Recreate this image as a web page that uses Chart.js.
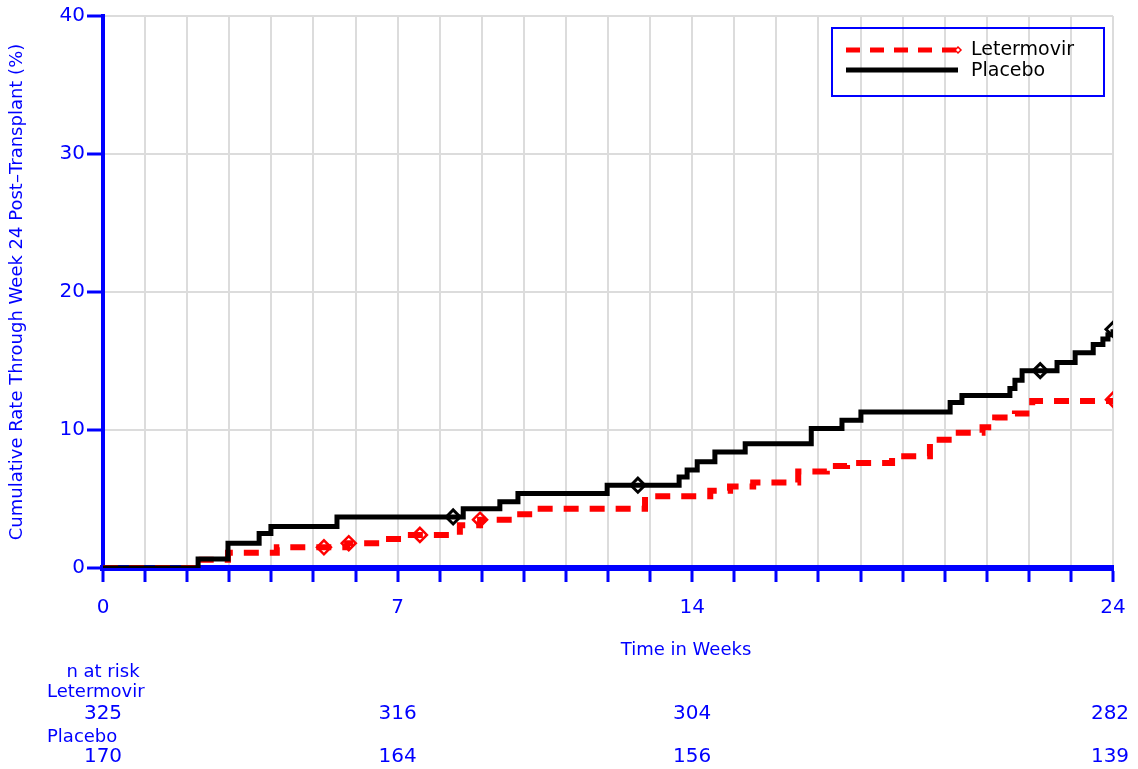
<!DOCTYPE html>
<html>
<head>
<meta charset="utf-8">
<script src="https://cdn.jsdelivr.net/npm/chart.js@4.4.1/dist/chart.umd.min.js"></script>
<style>
body { margin: 0; background: #fff; }
#wrap { width: 1138px; height: 769px; position: relative; }
</style>
</head>
<body>
<div id="wrap"><canvas id="km-chart"></canvas></div>
<script>
// step curves: week at which the rate jumps, and the new cumulative rate (%)
const letermovirWeeks = [0, 2.2, 2.97, 4.13, 5.8, 6.58, 7.13, 8.48, 8.96, 9.79, 10.26, 12.88, 14.43, 14.9, 15.45, 16.52, 17.2, 17.68, 18.75, 19.65, 20.2, 20.9, 21.2, 21.67, 22.08, 24];
const letermovirRate  = [0, 0.6, 1.1, 1.5, 1.8, 2.1, 2.4, 3.1, 3.5, 3.9, 4.3, 5.2, 5.6, 5.9, 6.2, 7.0, 7.4, 7.6, 8.1, 9.3, 9.8, 10.2, 10.9, 11.2, 12.1, 12.2];
const placeboWeeks = [0, 2.26, 2.97, 3.71, 3.99, 5.56, 8.56, 9.43, 9.86, 11.98, 13.69, 13.88, 14.12, 14.54, 15.26, 16.83, 17.56, 18.01, 20.13, 20.41, 21.55, 21.67, 21.84, 22.67, 23.1, 23.53, 23.76, 23.88, 24];
const placeboRate  = [0, 0.65, 1.8, 2.5, 3.0, 3.7, 4.3, 4.8, 5.4, 6.0, 6.6, 7.1, 7.7, 8.4, 9.0, 10.1, 10.7, 11.3, 12.0, 12.5, 13.0, 13.6, 14.3, 14.9, 15.6, 16.2, 16.6, 16.9, 17.3];

// censored observations (diamonds)
const letermovirCensorWeeks = [5.25, 5.84, 7.53, 8.96, 24];
const letermovirCensorRate  = [1.5, 1.8, 2.4, 3.5, 12.2];
const placeboCensorWeeks = [8.32, 12.71, 22.27, 24];
const placeboCensorRate  = [3.7, 6.0, 14.3, 17.3];

// number at risk table
const riskWeeks = [0, 7, 14, 24];
const riskLetermovir = [325, 316, 304, 282];
const riskPlacebo = [170, 164, 156, 139];

const xTickLabels = [0, 7, 14, 24];

const BLUE = '#0000ff';
const RED = '#ff0000';
const GRID = '#dcdcdc';
const FONT = "'DejaVu Sans', sans-serif";

function toPoints(xs, ys) {
    return xs.map((x, i) => ({ x: x, y: ys[i] }));
}

function diamond(ctx, x, y, r, color) {
    ctx.save();
    ctx.strokeStyle = color;
    ctx.lineWidth = 1.5;
    ctx.beginPath();
    ctx.moveTo(x, y - r);
    ctx.lineTo(x + r, y);
    ctx.lineTo(x, y + r);
    ctx.lineTo(x - r, y);
    ctx.closePath();
    ctx.stroke();
    ctx.restore();
}

const extras = {
    id: 'extras',
    afterDraw(chart) {
        const ctx = chart.ctx;
        const xs = chart.scales.x;
        const area = chart.chartArea;

        ctx.save();
        ctx.fillStyle = BLUE;
        ctx.font = '18px ' + FONT;
        ctx.textBaseline = 'middle';

        // axis title
        ctx.textAlign = 'center';
        ctx.fillText('Time in Weeks', (area.left + area.right) / 2 + 78, 650);

        // n at risk
        ctx.fillText('n at risk', xs.getPixelForValue(0), 672);
        ctx.textAlign = 'left';
        ctx.fillText('Letermovir', 47, 692);
        ctx.fillText('Placebo', 47, 737);
        ctx.font = '20px ' + FONT;
        ctx.textAlign = 'center';
        riskWeeks.forEach((w, i) => {
            const px = Math.min(xs.getPixelForValue(w), 1110);
            ctx.fillText(String(riskLetermovir[i]), px, 714);
            ctx.fillText(String(riskPlacebo[i]), px, 757);
        });

        // legend
        ctx.strokeStyle = BLUE;
        ctx.lineWidth = 2;
        ctx.strokeRect(832, 28, 272, 68);

        ctx.lineWidth = 5;
        ctx.strokeStyle = RED;
        ctx.setLineDash([14, 10]);
        ctx.beginPath();
        ctx.moveTo(846, 50);
        ctx.lineTo(960, 50);
        ctx.stroke();
        ctx.setLineDash([]);
        diamond(ctx, 958, 50, 3, RED);

        ctx.strokeStyle = '#000';
        ctx.beginPath();
        ctx.moveTo(846, 70);
        ctx.lineTo(958, 70);
        ctx.stroke();

        ctx.fillStyle = '#000';
        ctx.font = '19px ' + FONT;
        ctx.textAlign = 'left';
        ctx.fillText('Letermovir', 971, 50);
        ctx.fillText('Placebo', 971, 71);
        ctx.restore();
    }
};

new Chart(document.getElementById('km-chart'), {
    type: 'line',
    data: {
        datasets: [
            {
                label: 'Letermovir censored',
                data: toPoints(letermovirCensorWeeks, letermovirCensorRate),
                showLine: false,
                pointStyle: 'rectRot',
                pointRadius: 7,
                pointBorderWidth: 2.5,
                pointBorderColor: RED,
                pointBackgroundColor: 'rgba(255,255,255,0)',
                order: 0
            },
            {
                label: 'Placebo censored',
                data: toPoints(placeboCensorWeeks, placeboCensorRate),
                showLine: false,
                pointStyle: 'rectRot',
                pointRadius: 7,
                pointBorderWidth: 3,
                pointBorderColor: '#000',
                pointBackgroundColor: 'rgba(255,255,255,0)',
                order: 0
            },
            {
                label: 'Placebo',
                data: toPoints(placeboWeeks, placeboRate),
                stepped: true,
                borderColor: '#000',
                borderWidth: 5,
                pointRadius: 0,
                fill: false,
                order: 1
            },
            {
                label: 'Letermovir',
                data: toPoints(letermovirWeeks, letermovirRate),
                stepped: true,
                borderColor: RED,
                borderWidth: 6,
                borderDash: [15, 11],
                pointRadius: 0,
                fill: false,
                order: 2
            }
        ]
    },
    options: {
        responsive: true,
        maintainAspectRatio: false,
        animation: false,
        layout: { padding: { top: 16, right: 25, left: 0, bottom: 0 } },
        plugins: {
            legend: { display: false },
            tooltip: { enabled: false }
        },
        scales: {
            x: {
                type: 'linear',
                min: 0,
                max: 24,
                ticks: {
                    stepSize: 1,
                    autoSkip: false,
                    maxRotation: 0,
                    color: BLUE,
                    padding: 14,
                    font: { family: FONT, size: 20 },
                    callback: function(value) {
                        return xTickLabels.includes(value) ? String(value) : '';
                    }
                },
                grid: { color: GRID, lineWidth: 2, tickColor: BLUE, tickLength: 14, tickWidth: 3 },
                border: { color: BLUE, width: 6 },
                afterFit: function(scale) {
                    scale.height = 201;
                    scale.paddingLeft = 0;
                    scale.paddingRight = 0;
                }
            },
            y: {
                min: 0,
                max: 40,
                ticks: {
                    stepSize: 10,
                    color: BLUE,
                    padding: 2,
                    font: { family: FONT, size: 20 }
                },
                grid: { color: GRID, lineWidth: 2, tickColor: BLUE, tickLength: 16, tickWidth: 3 },
                border: { color: BLUE, width: 4 },
                title: {
                    display: true,
                    text: 'Cumulative Rate Through Week 24 Post\u2013Transplant (%)',
                    color: BLUE,
                    font: { family: FONT, size: 18 },
                    padding: { top: 7, bottom: 0 }
                },
                afterFit: function(scale) { scale.width = 103; }
            }
        }
    },
    plugins: [extras]
});
</script>
</body>
</html>
